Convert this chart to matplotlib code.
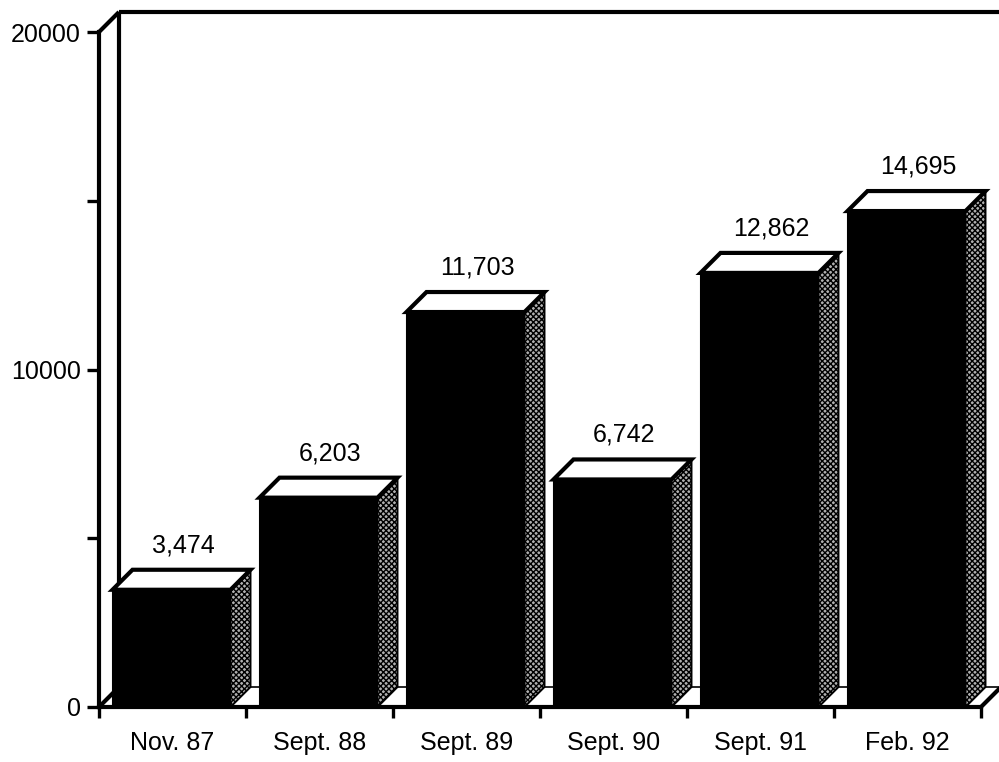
import matplotlib
matplotlib.use("Agg")
import matplotlib.pyplot as plt
from matplotlib.patches import Polygon

plt.rcParams['font.family'] = ['Liberation Sans', 'DejaVu Sans']
plt.rcParams['hatch.linewidth'] = 1.0

# Data
categories = ["Nov. 87", "Sept. 88", "Sept. 89", "Sept. 90", "Sept. 91", "Feb. 92"]
values = [3474, 6203, 11703, 6742, 12862, 14695]
value_labels = ["3,474", "6,203", "11,703", "6,742", "12,862", "14,695"]
y_major = [0, 10000, 20000]
y_minor = [5000, 15000]

fig = plt.figure(figsize=(9.99, 7.62), dpi=100)
W, H = 999, 762
# axes: x 0..6 categories, y 0..20000 on the front plane
ax = fig.add_axes([99 / W, (H - 707) / H, 882 / W, 675 / H])
n = len(categories)
ymax = 20000
ax.set_xlim(0, n)
ax.set_ylim(0, ymax)

# depth offset of the pseudo-3D box, in data units
DX = 20 / 147
DY = 20 / 675 * ymax

LW = 3.0
FS = 18
K = dict(color='black', lw=LW, clip_on=False, solid_capstyle='butt', zorder=2)

# back wall and floor outline
ax.plot([DX, DX], [DY, ymax + DY], **K)
ax.plot([0, DX], [ymax, ymax + DY], **K)
ax.plot([DX, n + DX + 0.2], [ymax + DY, ymax + DY], **K)
ax.plot([0, DX], [0, DY], **K)
ax.plot([DX, n + DX], [DY, DY], color='black', lw=1.2, clip_on=False, zorder=2)
ax.plot([n, n + DX], [0, DY], **K)

# bars: front face, top face, shaded side
bw = 118 / 147
off = 13.5 / 147
for i, v in enumerate(values):
    x0 = i + off
    x1 = x0 + bw
    front = Polygon([(x0, 0), (x1, 0), (x1, v), (x0, v)], closed=True,
                    facecolor='black', edgecolor='black', lw=1.5, zorder=3, clip_on=False)
    top = Polygon([(x0, v), (x1, v), (x1 + DX, v + DY), (x0 + DX, v + DY)], closed=True,
                  facecolor='white', edgecolor='black', lw=LW, zorder=4, clip_on=False,
                  joinstyle='miter')
    side = Polygon([(x1, 0), (x1 + DX, DY), (x1 + DX, v + DY), (x1, v)], closed=True,
                   facecolor='#b0b0b0', edgecolor='black', hatch='xxxxxx', lw=1.4,
                   zorder=3, clip_on=False)
    for p in (front, side, top):
        ax.add_patch(p)
    ax.annotate(value_labels[i], xy=(x0 + bw / 2 + DX * 0.6, v + DY),
                xytext=(0, 9), textcoords='offset points',
                ha='center', va='bottom', fontsize=FS, zorder=5)

# axes styling
for s in ('top', 'right'):
    ax.spines[s].set_visible(False)
ax.spines['left'].set_linewidth(LW)
ax.spines['bottom'].set_linewidth(LW)
ax.spines['left'].set_zorder(6)
ax.spines['bottom'].set_zorder(6)

ax.set_yticks(y_major)
ax.set_yticklabels([str(v) for v in y_major], fontsize=FS)
ax.set_yticks(y_minor, minor=True)
ax.tick_params(axis='y', which='both', direction='out', length=9, width=2.4, pad=4)

ax.set_xticks(range(n + 1))
ax.set_xticklabels([''] * (n + 1))
ax.set_xticks([i + 0.5 for i in range(n)], minor=True)
ax.set_xticklabels(categories, minor=True, fontsize=FS)
ax.tick_params(axis='x', which='major', direction='out', length=8, width=2.4)
ax.tick_params(axis='x', which='minor', length=0, pad=17)

ax.patch.set_visible(False)
fig.savefig("out.png", dpi=100, facecolor='white')
